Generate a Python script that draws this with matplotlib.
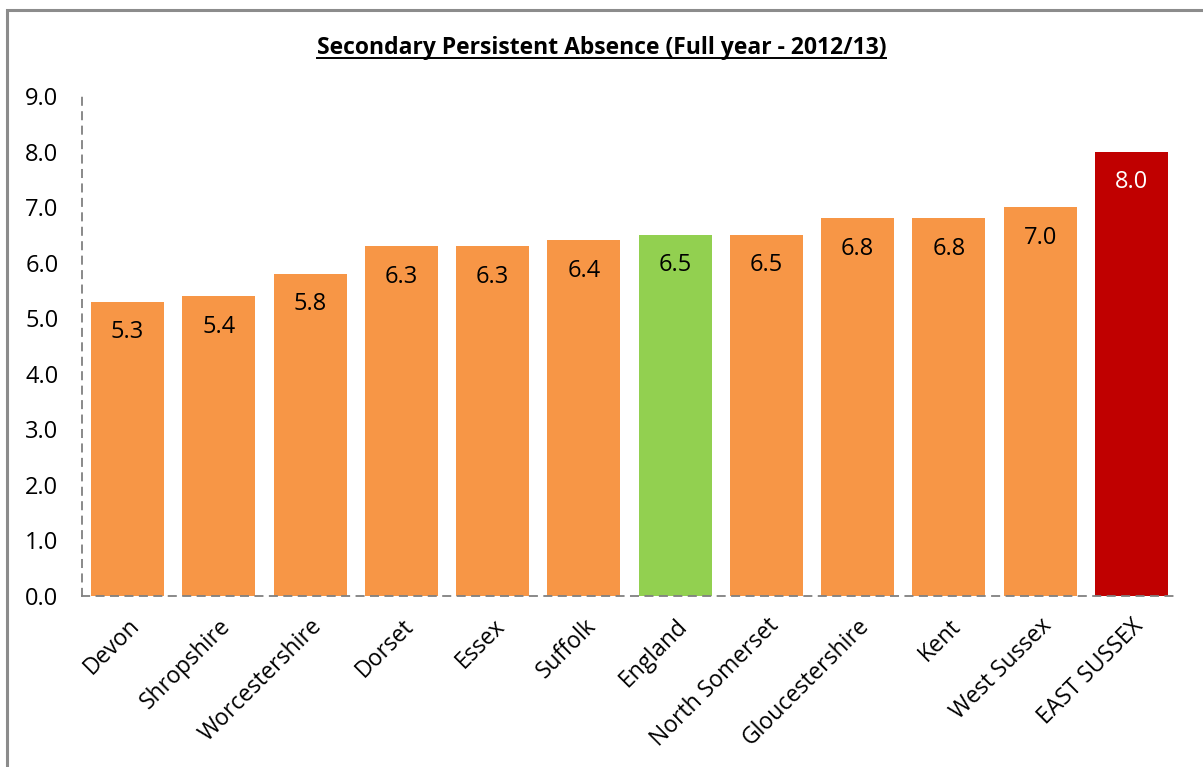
import matplotlib.pyplot as plt
from matplotlib.patches import Rectangle
from matplotlib.lines import Line2D

plt.rcParams['font.family'] = ['Open Sans', 'DejaVu Sans']

areas = ['Devon', 'Shropshire', 'Worcestershire', 'Dorset', 'Essex', 'Suffolk',
         'England', 'North Somerset', 'Gloucestershire', 'Kent', 'West Sussex', 'EAST SUSSEX']
values = [5.3, 5.4, 5.8, 6.3, 6.3, 6.4, 6.5, 6.5, 6.8, 6.8, 7.0, 8.0]
bar_colors = ['#F79646'] * 6 + ['#92D050'] + ['#F79646'] * 4 + ['#C00000']
label_colors = ['black'] * 11 + ['white']

W, H = 1203, 767
fig = plt.figure(figsize=(W / 100, H / 100), dpi=100)
ax = fig.add_axes([82 / W, 1 - 596 / H, (1177 - 82) / W, (596 - 96) / H])

x = range(len(areas))
bars = ax.bar(x, values, width=0.8, color=bar_colors, zorder=2)

for b, v, c in zip(bars, values, label_colors):
    ax.annotate(f'{v:.1f}', (b.get_x() + b.get_width() / 2, v),
                xytext=(0, -22), textcoords='offset points',
                ha='center', va='center', fontsize=17, color=c)

ax.set_xlim(-0.5, len(areas) - 0.5)
ax.set_ylim(0, 9)
ax.set_yticks([i for i in range(10)])
ax.set_yticklabels([f'{i:.1f}' for i in range(10)], fontsize=17)
ax.set_xticks(list(x))
ax.set_xticklabels(areas, rotation=45, ha='right', va='top',
                   rotation_mode='anchor', fontsize=16.5)
ax.tick_params(axis='both', length=0)
ax.tick_params(axis='y', pad=17)
ax.tick_params(axis='x', pad=13)

for s in ['top', 'right']:
    ax.spines[s].set_visible(False)
for s in ['left', 'bottom']:
    ax.spines[s].set_color('#808080')
    ax.spines[s].set_linestyle((0, (4, 4)))
    ax.spines[s].set_linewidth(1.3)

# title with underline
title = fig.text(0.5, 1 - 48 / H, 'Secondary Persistent Absence (Full year - 2012/13)',
                 ha='center', va='center', fontsize=16.5, fontweight='bold')
fig.canvas.draw()
bb = title.get_window_extent().transformed(fig.transFigure.inverted())
fig.add_artist(Line2D([bb.x0, bb.x1], [bb.y0 + 0.002, bb.y0 + 0.002],
                      transform=fig.transFigure, color='black', lw=1.4))

# outer chart border
fig.add_artist(Rectangle((7 / W, -0.05), 1.1, 1 - 10 / H + 0.05,
                         transform=fig.transFigure, fill=False,
                         edgecolor='#8C8C8C', lw=2.2))

fig.savefig('out.png', dpi=100)
